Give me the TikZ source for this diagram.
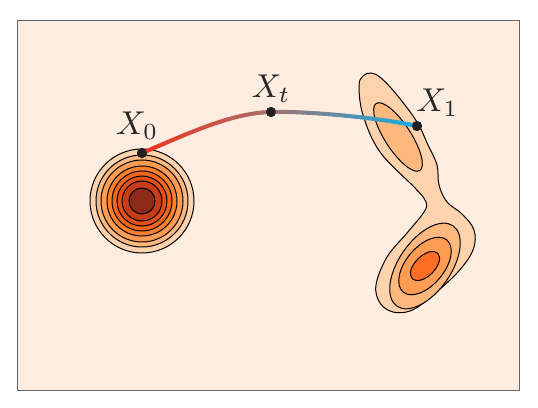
\documentclass[tikz,border=0pt]{standalone}
\usepackage{tikz}
\usetikzlibrary{positioning}
\definecolor{bgpeach}{HTML}{FDEDE0}
\definecolor{lvlA}{HTML}{FDD3AE}
\definecolor{lvlB}{HTML}{FDB87E}
\definecolor{lvlC}{HTML}{FD9C52}
\definecolor{lvlD}{HTML}{FB812F}
\definecolor{lvlE}{HTML}{F4661C}
\definecolor{lvlF}{HTML}{E45019}
\definecolor{lvlG}{HTML}{C43D18}
\definecolor{lvlH}{HTML}{8C2A17}
\definecolor{lvlHot}{HTML}{FD6E24}
\definecolor{flowRed}{HTML}{F2321C}
\definecolor{flowMid}{HTML}{A8706A}
\definecolor{flowBlue}{HTML}{12AEE6}
\definecolor{dotgray}{HTML}{222222}
\begin{document}
\begin{tikzpicture}[x=1pt, y=1pt,
        level/.style={draw=black, line width=1pt},
        dot/.style={circle, fill=dotgray, inner sep=0pt, minimum size=10pt},
        lbl/.style={scale=3.3, text=black!85, inner sep=0pt}
    ]
    \useasboundingbox (0,0) rectangle (538,407);
    \draw[fill=bgpeach, draw=black!60, line width=1pt] (17,17) rectangle (519,386);

    % source: rings of the gaussian
    \coordinate (src) at (142,206);
    \foreach \r/\c in {52/lvlA, 46/lvlB, 41/lvlC, 35/lvlD, 30/lvlE, 25/lvlF, 20/lvlG, 13/lvlH} {
        \draw[level, fill=\c] (src) circle (\r);
    }

    % target: two lobes
    \draw[level, fill=lvlA] plot[smooth cycle, tension=0.6] coordinates {
        (363,331) (359,321) (363,292) (380,255) (416,218) (426,205)
        (424,195) (407,174) (387,150) (376,122) (380,104) (393,95)
        (410,96) (427,107) (457,134) (473,157) (474,177) (462,193)
        (447,205) (439,222) (437,242) (428,262) (417,285) (397,312)
        (381,329) (371,334)
    };
    \coordinate (upper) at (398,270);
    \coordinate (lower) at (425,141);
    \draw[level, fill=lvlB, rotate around={-57:(upper)}] (upper) ellipse [x radius=40, y radius=13];
    \draw[level, fill=lvlB, rotate around={55:(lower)}] (lower) ellipse [x radius=49, y radius=26];
    \draw[level, fill=lvlC, rotate around={50:(lower)}] (lower) ellipse [x radius=34, y radius=19];
    \draw[level, fill=lvlHot, rotate around={45:(lower)}] (lower) ellipse [x radius=18, y radius=10];

    % points on the path
    \node[dot] (X0) at (142,254) {};
    \node[dot] (Xt) at (271,295) {};
    \node[dot] (X1) at (417,281) {};

    % sample the two curve pieces, then colour them from red to blue
    \foreach \i in {0,...,30} {
        \path (X0.center) .. controls (185,272) and (230,294) .. (Xt.center) coordinate[pos=\i/30] (p\i);
        \pgfmathtruncatemacro{\j}{\i+30}
        \path (Xt.center) .. controls (310,296) and (380,289) .. (X1.center) coordinate[pos=\i/30] (p\j);
    }
    \foreach \i [evaluate=\i as \nexti using {int(\i+1)}, evaluate=\i as \p using {int(100*(\i+0.5)/30)}] in {0,...,29} {
        \draw[line width=4pt, line cap=round, flowMid!\p!flowRed] (p\i) -- (p\nexti);
    }
    \foreach \i [evaluate=\i as \nexti using {int(\i+1)}, evaluate=\i as \p using {int(100*(\i-29.5)/30)}] in {30,...,59} {
        \draw[line width=4pt, line cap=round, flowBlue!\p!flowMid] (p\i) -- (p\nexti);
    }

    % redraw the dots on top
    \node[dot] at (X0) {};
    \node[dot] at (Xt) {};
    \node[dot] at (X1) {};

    \node[lbl, above=8pt of X0, xshift=-1.5pt] (L0) {$X_0$};
    \node[lbl, above=4pt of Xt] (Lt) {$X_t$};
    \node[lbl, above right=5pt and -5pt of X1] (L1) {$X_1$};
\end{tikzpicture}
\end{document}
